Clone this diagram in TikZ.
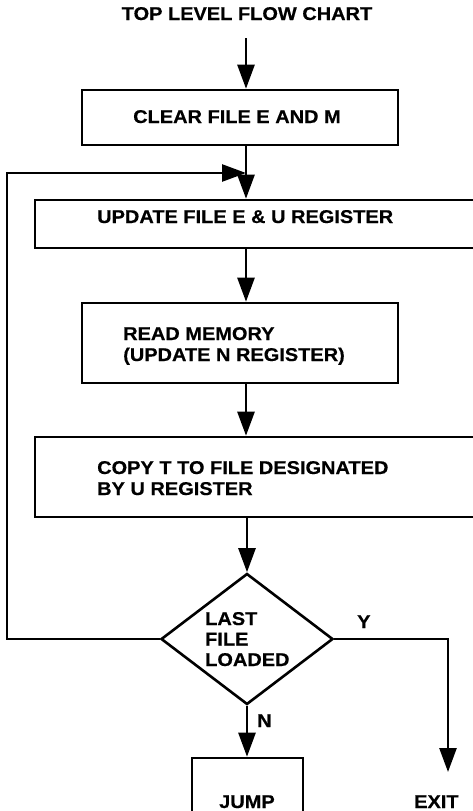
\documentclass[tikz,border=0pt]{standalone}
\usepackage{fontspec}
\setmainfont{Liberation Sans}[FakeStretch=1.08,BoldFeatures={FakeBold=0.4}]
\usetikzlibrary{arrows.meta,shapes.geometric}
\begin{document}
\begin{tikzpicture}[x=1pt,y=-1pt,
  ln/.style={line width=2.6pt},
  arr/.style={line width=2.6pt,-{Triangle[length=24pt,width=17pt]}},
  box/.style={draw,line width=2.6pt,inner sep=0pt},
  txt/.style={inner sep=0pt,anchor=base west,align=left,
    font=\fontsize{18.5}{21}\selectfont\bfseries},
  lbl/.style={inner sep=0pt,anchor=base west,
    font=\fontsize{18.5}{21}\selectfont\bfseries}]
\useasboundingbox (0,0) rectangle (473,811);
% title
\node[lbl,anchor=base] (title) at (247,20) {TOP LEVEL FLOW CHART};
% boxes
\node[box,minimum width=316pt,minimum height=55pt] (b1) at (240,117.5) {};
\node[box,minimum width=445pt,minimum height=48pt] (b2) at (257.5,224) {};
\node[box,minimum width=316pt,minimum height=80pt] (b3) at (240,343) {};
\node[box,minimum width=445pt,minimum height=80pt] (b4) at (257.5,477) {};
\node[box,diamond,minimum width=172pt,minimum height=131pt] (dia) at (247,639) {};
\node[box,minimum width=111pt,minimum height=72pt] (jump) at (247.5,794) {};
% texts (multi-line nodes are anchored at the baseline of their last line)
\node[txt] (t1) at (133,123) {CLEAR FILE E AND M};
\node[txt] (t2) at (97,223) {UPDATE FILE E \& U REGISTER};
\node[txt] (t3) at (123,361) {READ MEMORY\\(UPDATE N REGISTER)};
\node[txt] (t4) at (97,495) {COPY T TO FILE DESIGNATED\\BY U REGISTER};
\node[txt,font=\fontsize{18.5}{20.5}\selectfont\bfseries] (t5) at (205,666) {LAST\\FILE\\LOADED};
\node[lbl] (ty) at (357,628) {Y};
\node[lbl] (tn) at (257,727) {N};
\node[lbl] (tj) at (219,808) {JUMP};
\node[lbl] (tx) at (414,808) {EXIT};
% coordinates
\coordinate (ax) at (246,0);
\coordinate (start) at (246,38);
\coordinate (join) at (246,173);
\coordinate (lp) at (7,173);
\coordinate (ex) at (448,772);
% connectors
\draw[arr] (start) -- (b1.north -| ax);
\draw[ln] (b1.south -| ax) -- (join);
\draw[arr] (join) -- (b2.north -| ax);
\draw[arr] (dia.west) -| (lp) -- (join);
\draw[arr] (b2.south -| ax) -- (b3.north -| ax);
\draw[arr] (b3.south -| ax) -- (b4.north -| ax);
\draw[arr] (b4.south -| dia.north) -- (dia.north);
\draw[arr] (dia.south) -- (jump.north -| dia.south);
\draw[arr] (dia.east) -| (ex);
\end{tikzpicture}
\end{document}
